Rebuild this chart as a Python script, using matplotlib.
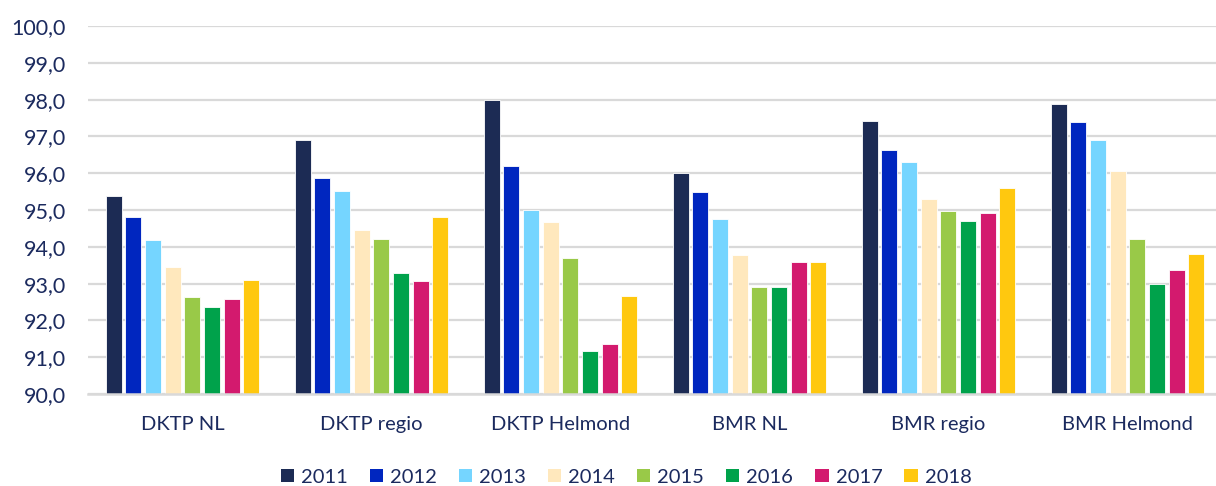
import numpy as np
import matplotlib
matplotlib.use("Agg")
import matplotlib.pyplot as plt
from matplotlib.patches import Patch

# --------------------------------------------------------------------------
# Data
# --------------------------------------------------------------------------
categories = ["DKTP NL", "DKTP regio", "DKTP Helmond",
              "BMR NL", "BMR regio", "BMR Helmond"]
years = ["2011", "2012", "2013", "2014", "2015", "2016", "2017", "2018"]

v2011 = [95.39, 96.91, 97.98, 96.00, 97.41, 97.89]
v2012 = [94.82, 95.88, 96.20, 95.50, 96.62, 97.40]
v2013 = [94.18, 95.52, 95.00, 94.76, 96.30, 96.89]
v2014 = [93.45, 94.47, 94.67, 93.78, 95.29, 96.05]
v2015 = [92.64, 94.21, 93.69, 92.91, 94.98, 94.22]
v2016 = [92.36, 93.29, 91.16, 92.90, 94.69, 93.00]
v2017 = [92.58, 93.07, 91.37, 93.59, 94.93, 93.36]
v2018 = [93.10, 94.80, 92.66, 93.60, 95.60, 93.80]
series = [v2011, v2012, v2013, v2014, v2015, v2016, v2017, v2018]

colors = ["#1C2B54", "#0026BF", "#75D5FF", "#FFE8BD",
          "#99C948", "#00A24B", "#D31A6E", "#FFC80F"]

TEXT = "#1B2A5E"
GRID = "#D9D9D9"


def main() -> None:
    plt.rcParams["font.family"] = ["Lato", "DejaVu Sans"]

    fig = plt.figure(figsize=(12.16, 4.86), dpi=100)
    # plot area runs slightly past the right edge, as in the cropped original
    ax = fig.add_axes([88 / 1216, 92 / 486, 1134 / 1216, 368 / 486])

    x = np.arange(len(categories))
    pitch = 0.104
    width = 0.086
    n = len(series)
    for k, (vals, col) in enumerate(zip(series, colors)):
        offs = (k - (n - 1) / 2) * pitch
        ax.bar(x + offs, np.array(vals) - 90.0, bottom=90.0, width=width,
               color=col, edgecolor="white", linewidth=0.6, zorder=3)

    ax.set_xlim(-0.5, len(categories) - 0.5)
    ax.set_ylim(90, 100)
    ax.set_yticks(np.arange(90, 101, 1))
    ax.set_yticklabels([f"{v:.1f}".replace(".", ",") for v in range(90, 101)])
    ax.yaxis.grid(True, color=GRID, linewidth=1.6, zorder=0)
    ax.set_axisbelow(True)
    for s in ax.spines.values():
        s.set_visible(False)
    ax.axhline(90, color=GRID, linewidth=1.8, zorder=4, clip_on=False)

    ax.set_xticks(x)
    ax.set_xticklabels(categories)
    ax.tick_params(axis="x", length=0, labelsize=14.5, colors=TEXT, pad=16)
    ax.tick_params(axis="y", length=0, labelsize=15.5, colors=TEXT, pad=16)

    handles = [Patch(facecolor=c, edgecolor="none") for c in colors]
    fig.legend(handles, years, loc="center", ncol=8,
               bbox_to_anchor=(626 / 1216, 1 - 477 / 486), frameon=False,
               fontsize=14.5, labelcolor=TEXT, handlelength=0.65,
               handleheight=0.65, handletextpad=0.35, columnspacing=1.1)

    fig.savefig("out.png", dpi=100)
    plt.close(fig)


if __name__ == "__main__":
    main()
